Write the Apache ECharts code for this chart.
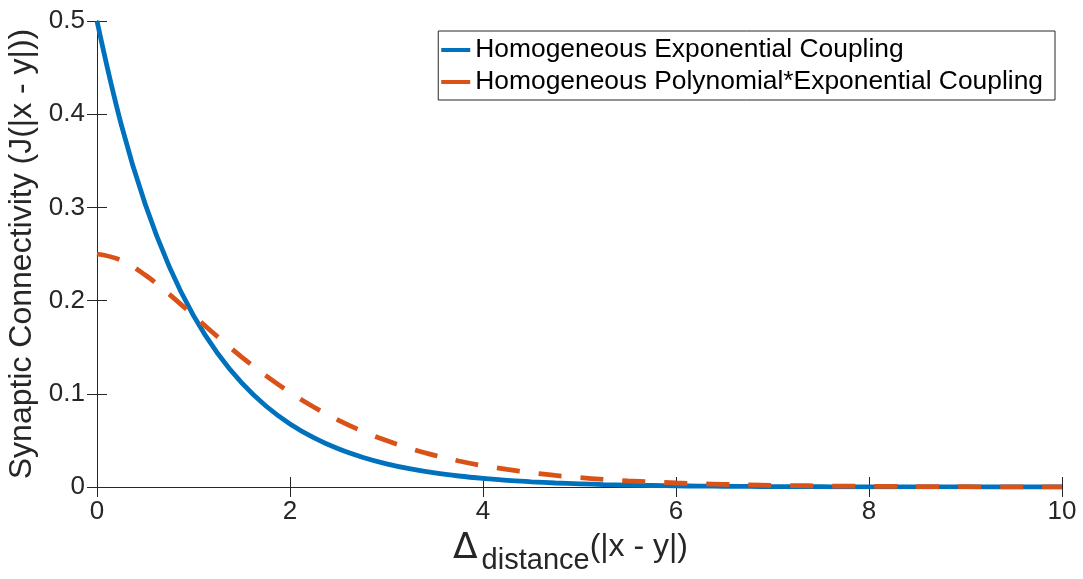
<!DOCTYPE html>
<html>
<head>
<meta charset="utf-8">
<script src="https://cdn.jsdelivr.net/npm/echarts@6/dist/echarts.min.js"></script>
<style>html,body{margin:0;padding:0;background:#fff;}#c{width:1083px;height:579px;}</style>
</head>
<body>
<div id="c"></div>
<script>
var xValues = [0,0.25,0.5,0.75,1,1.25,1.5,1.75,2,2.25,2.5,2.75,3,3.25,3.5,3.75,4,4.25,4.5,4.75,5,5.25,5.5,5.75,6,6.25,6.5,6.75,7,7.25,7.5,7.75,8,8.25,8.5,8.75,9,9.25,9.5,9.75,10];
var expCoupling = [0.5,0.3894,0.3033,0.2362,0.1839,0.1433,0.1116,0.0869,0.0677,0.0527,0.0410,0.0320,0.0249,0.0194,0.0151,0.0118,0.0092,0.0071,0.0056,0.0043,0.0034,0.0026,0.0020,0.0016,0.0012,0.0010,0.0008,0.0006,0.0005,0.0004,0.0003,0.0002,0.0002,0.0001,0.0001,0.0001,0.0001,0.0000,0.0000,0.0000,0.0000];
var polyExpCoupling = [0.25,0.2434,0.2274,0.2067,0.1839,0.1612,0.1394,0.1195,0.1015,0.0856,0.0718,0.0599,0.0498,0.0412,0.0340,0.0279,0.0229,0.0188,0.0153,0.0124,0.0101,0.0082,0.0066,0.0054,0.0043,0.0035,0.0028,0.0023,0.0018,0.0015,0.0012,0.0009,0.0008,0.0006,0.0005,0.0004,0.0003,0.0002,0.0002,0.0002,0.0001];
var seriesNames = ['Homogeneous Exponential Coupling','Homogeneous Polynomial*Exponential Coupling'];

function pairs(ys){ return xValues.map(function(x,i){ return [x, ys[i]]; }); }

var FONT = '"Liberation Sans", Arial, Helvetica, sans-serif';
var AX = '#262626';
var chart = echarts.init(document.getElementById('c'));
var baseAxisLine = {show:true, lineStyle:{color:AX, width:1}};
chart.setOption({
  animation:false,
  backgroundColor:'#fff',
  textStyle:{fontFamily:FONT},
  grid:{left:97, right:21, top:21, bottom:92, containLabel:false, outerBoundsMode:'none'},
  legend:{
    right:28, top:31, orient:'vertical',
    backgroundColor:'#fff', borderColor:'#262626', borderWidth:1,
    padding:[6,12,5,3], itemGap:6,
    itemWidth:29, itemHeight:4, itemStyle:{borderWidth:0},
    textStyle:{fontSize:26.4, color:'#000', fontFamily:FONT, padding:[0,0,0,0]},
    data:[{name:seriesNames[0], icon:'rect'},{name:seriesNames[1], icon:'rect'}]
  },
  xAxis:[{
    type:'value', min:0, max:10, interval:2, position:'bottom',
    axisLine:baseAxisLine,
    axisTick:{show:true, inside:true, length:10, lineStyle:{color:AX}},
    axisLabel:{fontSize:26, color:AX, margin:12, fontFamily:FONT},
    splitLine:{show:false},
    name:'{d|Δ}{b|distance}{a|(|x - y|)}', nameLocation:'middle', nameGap:44,
    nameTextStyle:{rich:{
      d:{fontSize:36, color:AX, fontFamily:'"DejaVu Sans", sans-serif', lineHeight:44, verticalAlign:'top', padding:[0,4,0,0]},
      a:{fontSize:32, color:AX, fontFamily:FONT, lineHeight:44, verticalAlign:'top', padding:[0,18,0,0]},
      b:{fontSize:29, color:AX, fontFamily:FONT, lineHeight:44, verticalAlign:'bottom'}
    }}
  },{
    type:'value', min:0, max:10, interval:2, position:'top',
    axisLine:baseAxisLine,
    axisTick:{show:true, inside:true, length:10, lineStyle:{color:AX}},
    axisLabel:{show:false}, splitLine:{show:false}
  }],
  yAxis:[{
    type:'value', min:0, max:0.5, interval:0.1, position:'left',
    axisLine:baseAxisLine,
    axisTick:{show:true, inside:true, length:10, lineStyle:{color:AX}},
    axisLabel:{fontSize:26, color:AX, margin:12, fontFamily:FONT,
      formatter:function(v){ return v===0 ? '0' : String(+v.toFixed(1)); }},
    splitLine:{show:false},
    name:'Synaptic Connectivity (J(|x - y|))', nameLocation:'middle', nameGap:48,
    nameTextStyle:{fontSize:32, color:AX, fontFamily:FONT}
  },{
    type:'value', min:0, max:0.5, interval:0.1, position:'right',
    axisLine:baseAxisLine,
    axisTick:{show:true, inside:true, length:10, lineStyle:{color:AX}},
    axisLabel:{show:false}, splitLine:{show:false}
  }],
  series:[{
    name:seriesNames[0], type:'line', xAxisIndex:0, yAxisIndex:0,
    data:pairs(expCoupling), smooth:0.4, showSymbol:false, symbol:'none',
    color:'#0072BD', lineStyle:{color:'#0072BD', width:4.8}, z:2
  },{
    name:seriesNames[1], type:'line', xAxisIndex:0, yAxisIndex:0,
    data:pairs(polyExpCoupling), smooth:0.4, showSymbol:false, symbol:'none',
    color:'#D95319', lineStyle:{color:'#D95319', width:4.8, type:[23,19]}, z:3
  }]
});
</script>
</body>
</html>
